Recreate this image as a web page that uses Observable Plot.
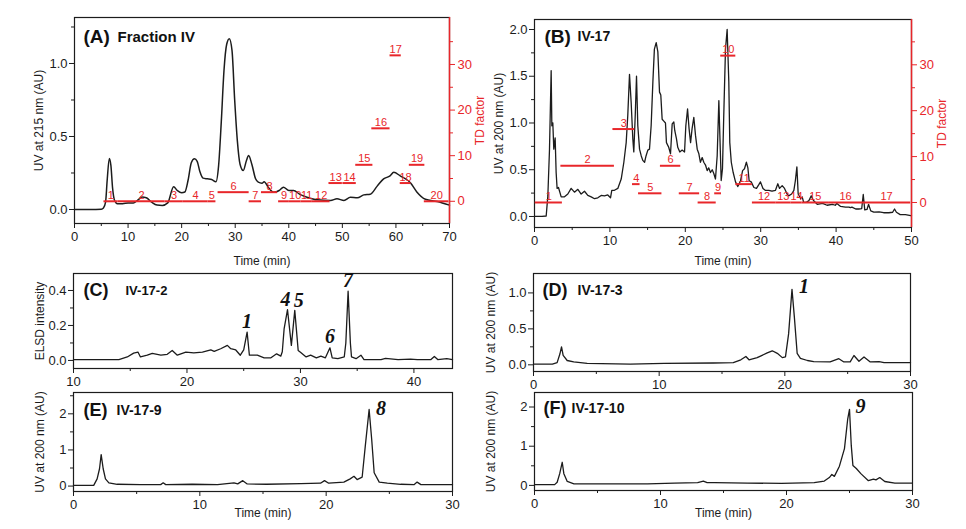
<!DOCTYPE html>
<html><head><meta charset="utf-8">
<script src="https://cdn.jsdelivr.net/npm/d3@7"></script>
<script src="https://cdn.jsdelivr.net/npm/@observablehq/plot@0.6"></script>
<style>
html,body{margin:0;padding:0;background:#fff;}
#fig{position:relative;width:966px;height:529px;overflow:hidden;background:#fff;}
#fig svg{position:absolute;background:transparent;}
</style></head><body><div id="fig"></div>
<script>
// ---- Chromatogram traces: [time (min), response] ----
const traceA = [[0,0],[3,0],[5,0.002],[5.4,0.01],[5.8,0.05],[6.1,0.2],[6.5,0.35],[6.8,0.3],[7.1,0.15],[7.5,0.06],[8,0.04],[9,0.04],[10,0.045],[11,0.045],[12,0.07],[12.6,0.085],[13.4,0.08],[14.4,0.05],[15.4,0.03],[16.4,0.028],[17.4,0.045],[18.5,0.155],[19.2,0.13],[20,0.115],[20.6,0.12],[21.2,0.2],[21.8,0.32],[22.4,0.347],[22.9,0.33],[23.4,0.26],[24,0.215],[24.8,0.21],[25.6,0.205],[26.4,0.19],[26.9,0.3],[27.4,0.6],[27.9,0.95],[28.4,1.13],[28.9,1.17],[29.4,1.09],[29.9,0.75],[30.4,0.47],[30.9,0.31],[31.5,0.267],[32.1,0.336],[32.5,0.37],[33.1,0.31],[33.8,0.21],[34.3,0.187],[35,0.18],[35.4,0.19],[36.2,0.15],[37.2,0.118],[38.2,0.13],[39,0.153],[40,0.13],[40.9,0.13],[42,0.105],[43.4,0.084],[45.3,0.066],[47.8,0.062],[49,0.073],[50.3,0.062],[51.5,0.084],[52.8,0.08],[54,0.1],[55.2,0.105],[56.5,0.16],[57.7,0.21],[58.9,0.23],[59.6,0.255],[60.8,0.23],[62.7,0.183],[63.9,0.12],[65.5,0.07],[67.7,0.055],[70,0.03]];

const traceB = [[0,0],[1,0],[1.55,0.005],[1.77,0.22],[1.99,0.72],[2.21,1.56],[2.3,0.97],[2.43,1.0],[2.56,0.72],[2.74,0.84],[2.87,0.47],[3.0,0.3],[3.18,0.31],[3.54,0.21],[3.98,0.21],[4.42,0.24],[4.86,0.3],[5.3,0.26],[5.75,0.29],[6.19,0.24],[6.63,0.27],[7.07,0.225],[7.52,0.21],[7.96,0.19],[8.4,0.2],[8.84,0.225],[9.28,0.22],[9.72,0.23],[10.08,0.2],[10.25,0.28],[10.6,0.28],[11.05,0.3],[11.5,0.4],[11.85,0.58],[12.16,0.79],[12.37,1.08],[12.6,1.52],[12.82,1.22],[13.04,0.83],[13.17,0.69],[13.36,1.08],[13.53,1.5],[13.7,0.97],[13.93,0.72],[14.15,0.65],[14.36,0.6],[14.6,0.58],[14.8,0.65],[15.03,0.71],[15.25,0.72],[15.47,0.97],[15.7,1.44],[15.9,1.79],[16.14,1.86],[16.36,1.76],[16.58,1.33],[16.75,1.3],[16.93,1.04],[17.15,1.02],[17.37,1.0],[17.5,0.79],[17.8,0.74],[18.04,0.67],[18.26,0.99],[18.48,1.01],[18.6,0.92],[18.83,0.83],[19.0,0.74],[19.27,0.69],[19.58,0.71],[19.9,0.69],[20.07,0.97],[20.3,1.15],[20.5,0.94],[20.7,0.79],[20.9,0.94],[21.13,1.06],[21.35,0.87],[21.58,0.72],[21.8,0.67],[22.0,0.58],[22.24,0.63],[22.45,0.58],[22.68,0.55],[22.9,0.49],[23.1,0.52],[23.34,0.47],[23.57,0.5],[23.78,0.46],[24.0,0.4],[24.23,0.65],[24.45,1.24],[24.58,0.88],[24.76,0.385],[24.93,0.51],[25.1,1.08],[25.33,1.79],[25.55,2.0],[25.77,1.44],[25.9,0.79],[26.1,0.58],[26.35,0.47],[26.66,0.37],[26.96,0.32],[27.32,0.38],[27.6,0.49],[27.85,0.51],[28.1,0.58],[28.3,0.52],[28.47,0.38],[28.74,0.37],[29.1,0.31],[29.44,0.3],[29.75,0.34],[29.97,0.37],[30.3,0.3],[30.6,0.28],[31.07,0.28],[31.5,0.27],[31.96,0.28],[32.27,0.35],[32.5,0.3],[32.85,0.33],[33.16,0.3],[33.5,0.24],[33.7,0.22],[34.1,0.24],[34.4,0.28],[34.6,0.385],[34.8,0.53],[34.97,0.24],[35.3,0.19],[35.5,0.21],[35.7,0.15],[36.0,0.15],[36.4,0.17],[36.7,0.22],[37.0,0.17],[37.5,0.13],[38.2,0.14],[38.8,0.12],[39.5,0.13],[39.9,0.12],[40.1,0.14],[40.6,0.107],[41.25,0.1],[41.7,0.1],[41.9,0.095],[42.1,0.1],[42.6,0.08],[43.0,0.08],[43.4,0.085],[43.6,0.235],[43.8,0.07],[44.1,0.075],[44.3,0.13],[44.6,0.06],[45.0,0.046],[45.7,0.05],[46.3,0.04],[47.0,0.04],[47.5,0.045],[47.75,0.08],[48.0,0.045],[48.5,0.02],[49.2,0.02],[49.9,0.01],[50,0.01]];

const traceC = [[10,0.005],[14,0.005],[14.74,0.02],[15.3,0.042],[15.68,0.048],[15.9,0.02],[16.5,0.03],[16.94,0.04],[17.7,0.03],[18.26,0.035],[18.7,0.057],[19.15,0.03],[19.9,0.048],[20.6,0.043],[21.36,0.048],[22.1,0.06],[22.4,0.052],[22.97,0.067],[23.56,0.086],[23.86,0.067],[24.3,0.06],[24.7,0.03],[25.0,0.06],[25.3,0.162],[25.5,0.03],[26.2,0.03],[26.8,0.015],[27.4,0.015],[27.9,0.038],[28.27,0.025],[28.4,0.05],[28.56,0.18],[28.86,0.29],[29.2,0.086],[29.5,0.286],[29.8,0.057],[30.0,0.047],[30.5,0.02],[30.9,0.03],[31.4,0.015],[31.8,0.025],[32.2,0.015],[32.6,0.072],[32.8,0.015],[33.3,0.01],[33.86,0.02],[34.0,0.1],[34.2,0.396],[34.4,0.1],[34.5,0.02],[34.9,0.01],[35.33,0.03],[35.6,0.005],[37.1,0.005],[37.5,0.012],[38.6,0.005],[39.7,0.008],[40.3,0.005],[41.5,0.005],[41.8,0.023],[42.1,0.005],[42.9,0.01],[43.4,0.005]];

const traceD = [[0,0.01],[1.5,0.01],[1.88,0.03],[2.1,0.15],[2.23,0.25],[2.36,0.13],[2.68,0.06],[3.2,0.04],[4.27,0.02],[7.7,0.01],[10.4,0.02],[14.3,0.025],[15.9,0.03],[16.5,0.07],[16.9,0.116],[17.15,0.07],[17.8,0.1],[18.6,0.165],[19.0,0.195],[19.4,0.16],[19.8,0.1],[20.05,0.11],[20.3,0.43],[20.57,1.05],[20.76,0.66],[20.98,0.16],[21.24,0.09],[21.8,0.06],[22.3,0.045],[23.6,0.04],[24.3,0.085],[24.7,0.04],[25.2,0.04],[25.5,0.13],[25.9,0.05],[26.3,0.11],[26.8,0.04],[27.5,0.045],[27.9,0.03],[30,0.03]];

const traceE = [[0,0.02],[1.6,0.02],[1.87,0.2],[2.06,0.48],[2.19,0.87],[2.35,0.48],[2.53,0.2],[2.8,0.09],[3.46,0.05],[5.3,0.04],[6.9,0.04],[7.1,0.09],[7.3,0.04],[9.4,0.05],[11.4,0.04],[12.7,0.09],[13.0,0.06],[13.4,0.15],[13.75,0.06],[15.3,0.05],[18.0,0.07],[19.55,0.08],[19.87,0.15],[20.2,0.08],[21.4,0.11],[21.9,0.2],[22.2,0.27],[22.45,0.18],[22.85,0.25],[23.1,1.12],[23.4,2.12],[23.6,1.31],[23.8,0.37],[24.2,0.11],[24.84,0.08],[25.9,0.05],[26.95,0.04],[27.2,0.11],[27.5,0.04],[28.5,0.04],[30,0.04]];

const traceF = [[0,0.02],[1.6,0.02],[1.8,0.08],[2.0,0.3],[2.2,0.59],[2.33,0.3],[2.6,0.1],[3.13,0.04],[6.84,0.04],[8.97,0.04],[11.1,0.06],[12.95,0.07],[13.4,0.11],[13.7,0.07],[14.3,0.07],[16.9,0.06],[19.6,0.05],[22.2,0.07],[23.0,0.11],[23.4,0.2],[23.6,0.28],[23.8,0.23],[24.2,0.49],[24.6,0.94],[24.86,1.7],[25.0,1.94],[25.14,1.02],[25.27,0.51],[25.54,0.43],[25.9,0.3],[26.5,0.12],[26.9,0.16],[27.1,0.14],[27.4,0.2],[27.8,0.1],[28.6,0.06],[30,0.06]];

// ---- Collected fractions and their TD factors ----
const fracA  = ["1","2","3","4","5","6","7","8","9","10","11","12","13","14","15","16","17","18","19","20"];
const startA = [5.5,8.1,16.9,20.3,24.9,26.8,32.6,34.9,38.1,40.1,42.3,44.4,47.5,50.1,52.5,55.5,58.9,60.8,62.5,65.3];
const endA   = [8.1,16.9,20.3,24.9,26.4,32.6,34.9,37.9,40.1,42.3,44.4,47.7,50.0,52.6,55.7,58.9,61.0,62.8,65.4,69.9];
const tdA    = [0,0,0,0,0,2,0,2,0,0,0,0,4,4,8,16,32,4,8,0];

const fracB  = ["1","2","3","4","5","6","7","8","9","10","11","12","13","14","15","16","17"];
const startB = [0.1,3.5,10.4,13.0,13.8,16.7,19.2,21.7,23.9,24.7,26.7,28.9,32.0,34.0,35.5,39.0,43.5];
const endB   = [3.7,10.6,13.3,14.0,16.9,19.4,21.9,24.1,24.8,26.7,28.9,32.0,34.0,35.5,39.0,43.5,49.9];
const tdB    = [0,8,16,4,2,8,2,0,2,32,4,0,0,0,0,0,0];

// ---- Isolated compounds: name, retention time, response at apex ----
const peakNamesC = ["1","4","5","6","7"];
const peakTimesC = [25.3,28.86,29.5,32.6,34.2];
const peakValsC  = [0.162,0.29,0.286,0.072,0.396];
const peakD = {name: "1", t: 20.57, v: 1.05};
const peakE = {name: "8", t: 23.4, v: 2.12};
const peakF = {name: "9", t: 25.0, v: 1.94};

// ---- Panels ----
const FONT = '"Liberation Sans", Arial, Helvetica, sans-serif';
const SERIF = '"Liberation Serif", "Times New Roman", serif';
const INK = "#1c1c1c";
const RED = "#e8262a";
const M = {l: 60, r: 60, t: 12, b: 50};
const fig = document.getElementById("fig");

const rows = a => a.map(([t, v]) => ({t, v}));
const segs = (f, s, e, td) => f.map((name, i) => ({name, start: s[i], end: e[i], td: td[i]}));
const range = (a, b, s) => d3.range(a, b + s / 2, s);

function plotAt(box, xDomain, yDomain, marks, xAxis) {
  const svg = Plot.plot({
    width: box.x1 - box.x0 + M.l + M.r,
    height: box.y1 - box.y0 + M.t + M.b,
    marginLeft: M.l, marginRight: M.r, marginTop: M.t, marginBottom: M.b,
    x: {domain: xDomain, ...(xAxis === null ? {axis: null} : {})},
    y: {domain: yDomain},
    style: {background: "transparent", fontFamily: FONT, fontSize: "12px", color: INK, overflow: "visible"},
    marks
  });
  svg.style.left = (box.x0 - M.l) + "px";
  svg.style.top = (box.y0 - M.t) + "px";
  fig.append(svg);
  return svg;
}

function axes(o) {
  return [
    Plot.axisX({ticks: o.xMajor, tickSize: 5, tickPadding: 3, tickFormat: d => String(d), fontSize: 13,
      label: null}),
    ...(o.xLabel ? [Plot.axisX({ticks: [], label: o.xLabel, labelAnchor: "center", labelOffset: o.xOff, labelArrow: "none", fontSize: 12})] : []),
    Plot.axisX({ticks: o.xMinor, tickSize: 3, tickFormat: () => "", label: null}),
    Plot.axisY({ticks: o.yMajor, tickSize: 5, tickPadding: 2, tickFormat: o.yFmt, fontSize: 13, label: null}),
    Plot.axisY({ticks: [], label: o.yLabel, labelAnchor: "center", labelOffset: o.yOff, labelArrow: "none", fontSize: 12}),
    Plot.axisY({ticks: o.yMinor, tickSize: 3, tickFormat: () => "", label: null}),
    Plot.frame({stroke: INK, strokeWidth: 1.2})
  ];
}

function heading(tag, name, o) {
  return [
    Plot.text([tag], {text: d => d, frameAnchor: "top-left", textAnchor: "start", lineAnchor: "middle",
      dx: o.dx1, dy: o.dy1, fontSize: o.s1, fontWeight: "bold", fill: "#111"}),
    Plot.text([name], {text: d => d, frameAnchor: "top-left", textAnchor: "start", lineAnchor: "middle",
      dx: o.dx2, dy: o.dy2, fontSize: o.s2, fontWeight: "bold", fill: "#111"})
  ];
}

function tdOverlay(box, xDomain, tdDomain, segData) {
  return plotAt(box, xDomain, tdDomain, [
    Plot.ruleY(segData, {y: "td", x1: "start", x2: "end", stroke: RED, strokeWidth: 2}),
    Plot.text(segData, {x: d => (d.start + d.end) / 2, y: "td", text: "name", fill: RED, fontSize: 11, dy: -6}),
    Plot.axisY({anchor: "right", ticks: [0, 10, 20, 30], tickSize: 5, tickPadding: 3, color: RED, fontSize: 13, label: null}),
    Plot.axisY({anchor: "right", ticks: [], color: RED, fontSize: 12,
      label: "TD factor", labelAnchor: "center", labelOffset: 34, labelArrow: "none"}),
    Plot.axisY({anchor: "right", ticks: [5, 15, 25, 35], tickSize: 3, tickFormat: () => "", color: RED, label: null}),
    Plot.ruleX([xDomain[1]], {stroke: RED, strokeWidth: 1.5})
  ], null);
}

const peakLabel = {fontFamily: SERIF, fontStyle: "italic", fontWeight: "bold", fontSize: 20, fill: "#111"};
const fmt1 = d3.format(".1f");

// (A) Fraction IV
const boxA = {x0: 74, x1: 449, y0: 17, y1: 223};
plotAt(boxA, [0, 70], [-0.096, 1.315], [
  ...axes({xMajor: range(0, 70, 10), xMinor: range(5, 65, 10), yMajor: [0, 0.5, 1.0], yMinor: [0.25, 0.75, 1.25],
    yFmt: fmt1, yLabel: "UV at 215 nm (AU)", yOff: 40, xLabel: "Time (min)", xOff: 41}),
  Plot.line(rows(traceA), {x: "t", y: "v", stroke: INK, strokeWidth: 1.5, curve: "monotone-x"}),
  ...heading("(A)", "Fraction IV", {dx1: 9, dy1: 19, s1: 19, dx2: 43, dy2: 20, s2: 15})
]);
tdOverlay(boxA, [0, 70], [-4.87, 40.3], segs(fracA, startA, endA, tdA));

// (B) IV-17
const boxB = {x0: 534, x1: 911, y0: 19, y1: 227};
plotAt(boxB, [0, 50], [-0.118, 2.107], [
  ...axes({xMajor: range(0, 50, 10), xMinor: range(5, 45, 10), yMajor: range(0, 2, 0.5), yMinor: range(0.25, 1.75, 0.5),
    yFmt: fmt1, yLabel: "UV at 200 nm (AU)", yOff: 40, xLabel: "Time (min)", xOff: 37}),
  Plot.line(rows(traceB), {x: "t", y: "v", stroke: INK, strokeWidth: 1.3}),
  ...heading("(B)", "IV-17", {dx1: 10, dy1: 17, s1: 19, dx2: 43, dy2: 17, s2: 14})
]);
tdOverlay(boxB, [0, 50], [-5.45, 39.87], segs(fracB, startB, endB, tdB));

// (C) IV-17-2
const boxC = {x0: 73, x1: 452, y0: 273, y1: 368};
const pkC = peakNamesC.map((name, i) => ({name, t: peakTimesC[i], v: peakValsC[i]}));
plotAt(boxC, [10, 43.4], [-0.046, 0.497], [
  ...axes({xMajor: [10, 20, 30, 40], xMinor: [15, 25, 35], yMajor: [0, 0.2, 0.4], yMinor: [0.1, 0.3],
    yFmt: fmt1, yLabel: "ELSD intensity", yOff: 38}),
  Plot.line(rows(traceC), {x: "t", y: "v", stroke: INK, strokeWidth: 1.3}),
  Plot.text(pkC.filter(d => d.name !== "4" && d.name !== "5"), {x: "t", y: "v", text: "name", dy: -11, ...peakLabel}),
  Plot.text(pkC.filter(d => d.name === "4"), {x: "t", y: "v", text: "name", dy: -10, dx: 3, textAnchor: "end", ...peakLabel}),
  Plot.text(pkC.filter(d => d.name === "5"), {x: "t", y: "v", text: "name", dy: -10, dx: -1, textAnchor: "start", ...peakLabel}),
  ...heading("(C)", "IV-17-2", {dx1: 10, dy1: 17, s1: 18, dx2: 52, dy2: 17, s2: 13})
]);

// (D) IV-17-3
const boxD = {x0: 533, x1: 910, y0: 273, y1: 371};
plotAt(boxD, [0, 30], [-0.093, 1.27], [
  ...axes({xMajor: [0, 10, 20, 30], xMinor: [5, 15, 25], yMajor: [0, 0.5, 1.0], yMinor: [0.25, 0.75],
    yFmt: fmt1, yLabel: "UV at 200 nm (AU)", yOff: 47}),
  Plot.line(rows(traceD), {x: "t", y: "v", stroke: INK, strokeWidth: 1.3}),
  Plot.text([peakD], {x: "t", y: "v", text: "name", dx: 7, dy: -3, textAnchor: "start", ...peakLabel}),
  ...heading("(D)", "IV-17-3", {dx1: 9, dy1: 17, s1: 18, dx2: 44, dy2: 17, s2: 14})
]);

// (E) IV-17-9
const boxE = {x0: 73, x1: 452, y0: 392, y1: 491};
plotAt(boxE, [0, 30], [-0.15, 2.59], [
  ...axes({xMajor: [0, 10, 20, 30], xMinor: [5, 15, 25], yMajor: [0, 1, 2], yMinor: [0.5, 1.5, 2.5],
    yFmt: d => String(d), yLabel: "UV at 200 nm (AU)", yOff: 38, xLabel: "Time (min)", xOff: 25}),
  Plot.line(rows(traceE), {x: "t", y: "v", stroke: INK, strokeWidth: 1.3}),
  Plot.text([peakE], {x: "t", y: "v", text: "name", dx: 7, dy: -1, textAnchor: "start", ...peakLabel}),
  ...heading("(E)", "IV-17-9", {dx1: 10, dy1: 18, s1: 18, dx2: 43, dy2: 18, s2: 14})
]);

// (F) IV-17-10
const boxF = {x0: 534, x1: 912, y0: 392, y1: 490};
plotAt(boxF, [0, 30], [-0.13, 2.37], [
  ...axes({xMajor: [0, 10, 20, 30], xMinor: [5, 15, 25], yMajor: [0, 1, 2], yMinor: [0.5, 1.5],
    yFmt: d => String(d), yLabel: "UV at 200 nm (AU)", yOff: 48, xLabel: "Time (min)", xOff: 26}),
  Plot.line(rows(traceF), {x: "t", y: "v", stroke: INK, strokeWidth: 1.3}),
  Plot.text([peakF], {x: "t", y: "v", text: "name", dx: 6, dy: -3, textAnchor: "start", ...peakLabel}),
  ...heading("(F)", "IV-17-10", {dx1: 9, dy1: 16, s1: 18, dx2: 37, dy2: 16, s2: 14})
]);
</script></body></html>
